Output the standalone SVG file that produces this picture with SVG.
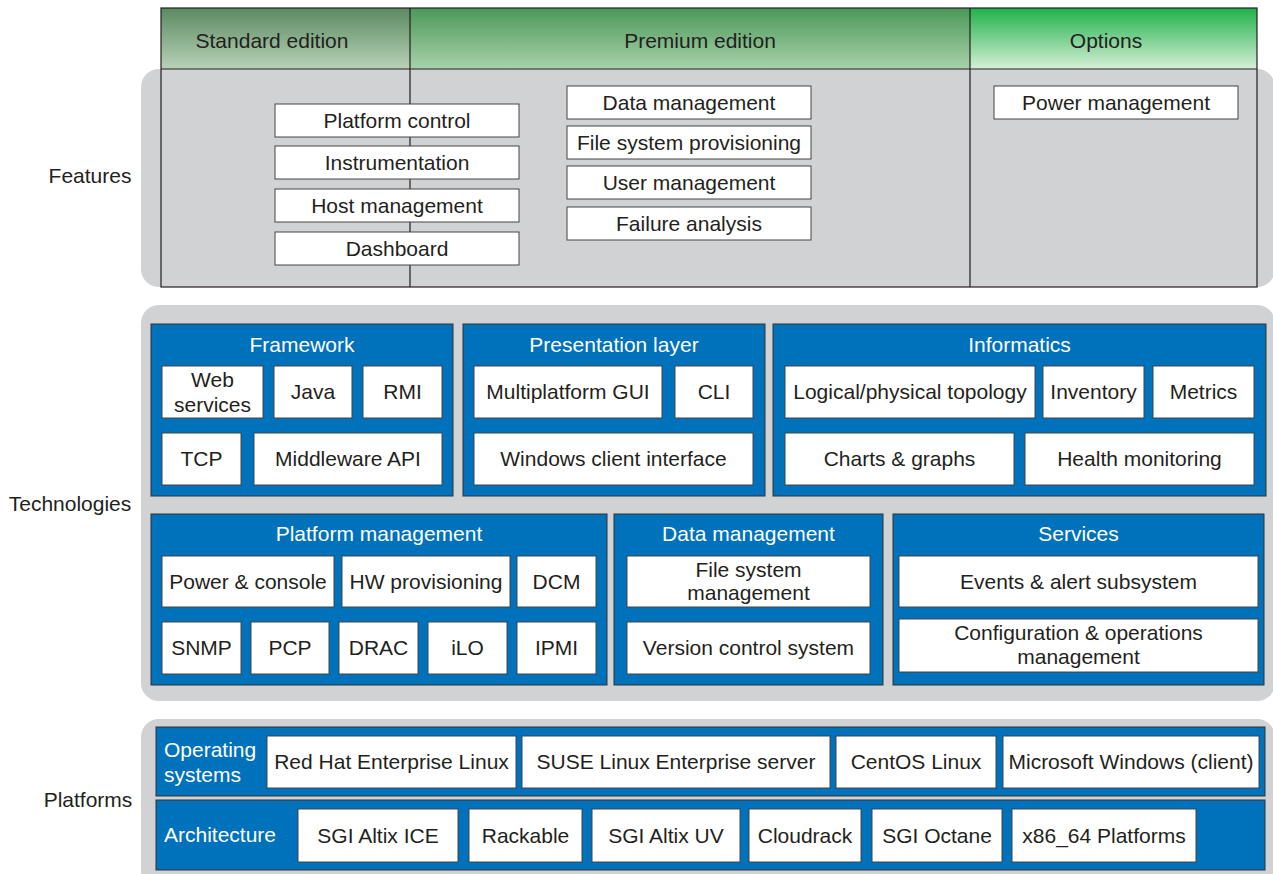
<svg xmlns="http://www.w3.org/2000/svg" width="1273" height="874" viewBox="0 0 1273 874">
<defs>
<linearGradient id="gStd" x1="0" y1="0" x2="0" y2="1"><stop offset="0" stop-color="#5a8a60"/><stop offset="1" stop-color="#b8d2b8"/></linearGradient>
<linearGradient id="gPrem" x1="0" y1="0" x2="0" y2="1"><stop offset="0" stop-color="#4a9858"/><stop offset="1" stop-color="#a9d2ab"/></linearGradient>
<linearGradient id="gOpt" x1="0" y1="0" x2="0" y2="1"><stop offset="0" stop-color="#1fb24b"/><stop offset="1" stop-color="#d6efd6"/></linearGradient>
<style>
text{font-family:"Liberation Sans",Arial,sans-serif;font-size:21px;fill:#231f20;text-anchor:middle}
.tier{fill:#d1d2d4}
.blue{fill:#0071bb;stroke:#333;stroke-width:1}
.box{fill:#fff;stroke:#444;stroke-width:1}
.line{stroke:#231f20;stroke-width:1.2;fill:none}
.wt{fill:#fff}
.lt{text-anchor:start}
</style>
</defs>
<rect width="1273" height="874" fill="#fff"/>

<!-- Features tier -->
<g id="features">
<rect class="tier" x="141" y="69" width="1134" height="218" rx="18"/>
<rect x="161" y="8" width="249" height="61" fill="url(#gStd)"/>
<rect x="410" y="8" width="560" height="61" fill="url(#gPrem)"/>
<rect x="970" y="8" width="287" height="61" fill="url(#gOpt)"/>
<rect class="line" x="161" y="8" width="1096" height="279"/>
<line class="line" x1="161" y1="69" x2="1257" y2="69"/>
<line class="line" x1="410" y1="8" x2="410" y2="287"/>
<line class="line" x1="970" y1="8" x2="970" y2="287"/>
<text x="272" y="48" fill="#333">Standard edition</text>
<text x="700" y="48" fill="#333">Premium edition</text>
<text x="1106" y="48" fill="#333">Options</text>
<text x="90" y="183">Features</text>
</g>
<g id="f-platform-control"><rect class="box" x="275" y="104" width="244" height="33"/><text x="397" y="128">Platform control</text></g>
<g id="f-instrumentation"><rect class="box" x="275" y="146" width="244" height="33"/><text x="397" y="170">Instrumentation</text></g>
<g id="f-host-management"><rect class="box" x="275" y="189" width="244" height="33"/><text x="397" y="213">Host management</text></g>
<g id="f-dashboard"><rect class="box" x="275" y="232" width="244" height="33"/><text x="397" y="256">Dashboard</text></g>
<g id="f-data-management"><rect class="box" x="567" y="86" width="244" height="33"/><text x="689" y="110">Data management</text></g>
<g id="f-fs-provisioning"><rect class="box" x="567" y="126" width="244" height="33"/><text x="689" y="150">File system provisioning</text></g>
<g id="f-user-management"><rect class="box" x="567" y="166" width="244" height="33"/><text x="689" y="190">User management</text></g>
<g id="f-failure-analysis"><rect class="box" x="567" y="207" width="244" height="33"/><text x="689" y="231">Failure analysis</text></g>
<g id="f-power-management"><rect class="box" x="994" y="86" width="244" height="33"/><text x="1116" y="110">Power management</text></g>

<!-- Technologies tier -->
<g id="technologies">
<rect class="tier" x="141" y="305" width="1134" height="396" rx="18"/>
<text x="70" y="511">Technologies</text>
</g>
<g id="framework">
<rect class="blue" x="151" y="324" width="302" height="172"/>
<text class="wt" x="302" y="352">Framework</text>
<rect class="box" x="162" y="366" width="101" height="52"/><text x="212.5" y="387">Web</text><text x="212.5" y="412">services</text>
<rect class="box" x="274" y="366" width="78" height="52"/><text x="313" y="399">Java</text>
<rect class="box" x="363" y="366" width="79" height="52"/><text x="402.5" y="399">RMI</text>
<rect class="box" x="162" y="433" width="79" height="52"/><text x="201.5" y="466">TCP</text>
<rect class="box" x="254" y="433" width="188" height="52"/><text x="348" y="466">Middleware API</text>
</g>
<g id="presentation-layer">
<rect class="blue" x="463" y="324" width="302" height="172"/>
<text class="wt" x="614" y="352">Presentation layer</text>
<rect class="box" x="474" y="366" width="188" height="52"/><text x="568" y="399">Multiplatform GUI</text>
<rect class="box" x="675" y="366" width="78" height="52"/><text x="714" y="399">CLI</text>
<rect class="box" x="474" y="433" width="279" height="52"/><text x="613.5" y="466">Windows client interface</text>
</g>
<g id="informatics">
<rect class="blue" x="773" y="324" width="493" height="172"/>
<text class="wt" x="1019.5" y="352">Informatics</text>
<rect class="box" x="785" y="366" width="250" height="52"/><text x="910" y="399">Logical/physical topology</text>
<rect class="box" x="1043" y="366" width="101" height="52"/><text x="1093.5" y="399">Inventory</text>
<rect class="box" x="1153" y="366" width="101" height="52"/><text x="1203.5" y="399">Metrics</text>
<rect class="box" x="785" y="433" width="229" height="52"/><text x="899.5" y="466">Charts &amp; graphs</text>
<rect class="box" x="1025" y="433" width="229" height="52"/><text x="1139.5" y="466">Health monitoring</text>
</g>
<g id="platform-management">
<rect class="blue" x="151" y="514" width="456" height="171"/>
<text class="wt" x="379" y="541">Platform management</text>
<rect class="box" x="162" y="556" width="172" height="51"/><text x="248" y="589">Power &amp; console</text>
<rect class="box" x="342" y="556" width="168" height="51"/><text x="426" y="589">HW provisioning</text>
<rect class="box" x="517" y="556" width="79" height="51"/><text x="556.5" y="589">DCM</text>
<rect class="box" x="162" y="622" width="79" height="52"/><text x="201.5" y="655">SNMP</text>
<rect class="box" x="251" y="622" width="78" height="52"/><text x="290" y="655">PCP</text>
<rect class="box" x="339" y="622" width="79" height="52"/><text x="378.5" y="655">DRAC</text>
<rect class="box" x="428" y="622" width="79" height="52"/><text x="467.5" y="655">iLO</text>
<rect class="box" x="517" y="622" width="79" height="52"/><text x="556.5" y="655">IPMI</text>
</g>
<g id="data-management">
<rect class="blue" x="614" y="514" width="269" height="171"/>
<text class="wt" x="748.5" y="541">Data management</text>
<rect class="box" x="627" y="556" width="243" height="51"/><text x="748.5" y="577">File system</text><text x="748.5" y="600">management</text>
<rect class="box" x="627" y="622" width="243" height="52"/><text x="748.5" y="655">Version control system</text>
</g>
<g id="services">
<rect class="blue" x="893" y="514" width="371" height="171"/>
<text class="wt" x="1078.5" y="541">Services</text>
<rect class="box" x="899" y="556" width="359" height="51"/><text x="1078.5" y="589">Events &amp; alert subsystem</text>
<rect class="box" x="899" y="619" width="359" height="53"/><text x="1078.5" y="640">Configuration &amp; operations</text><text x="1078.5" y="664">management</text>
</g>

<!-- Platforms tier -->
<g id="platforms">
<rect class="tier" x="141" y="719" width="1134" height="170" rx="18"/>
<text x="88" y="807">Platforms</text>
</g>
<g id="operating-systems">
<rect class="blue" x="156" y="727" width="1109" height="69"/>
<text class="wt lt" x="164" y="757">Operating</text><text class="wt lt" x="164" y="782">systems</text>
<rect class="box" x="267" y="736" width="249" height="52"/><text x="391.5" y="769">Red Hat Enterprise Linux</text>
<rect class="box" x="522" y="736" width="308" height="52"/><text x="676" y="769">SUSE Linux Enterprise server</text>
<rect class="box" x="836" y="736" width="160" height="52"/><text x="916" y="769">CentOS Linux</text>
<rect class="box" x="1003" y="736" width="256" height="52"/><text x="1131" y="769">Microsoft Windows (client)</text>
</g>
<g id="architecture">
<rect class="blue" x="156" y="800" width="1109" height="70"/>
<text class="wt lt" x="164" y="842">Architecture</text>
<rect class="box" x="298" y="809" width="160" height="53"/><text x="378" y="843">SGI Altix ICE</text>
<rect class="box" x="469" y="809" width="113" height="53"/><text x="525.5" y="843">Rackable</text>
<rect class="box" x="592" y="809" width="148" height="53"/><text x="666" y="843">SGI Altix UV</text>
<rect class="box" x="749" y="809" width="112" height="53"/><text x="805" y="843">Cloudrack</text>
<rect class="box" x="872" y="809" width="130" height="53"/><text x="937" y="843">SGI Octane</text>
<rect class="box" x="1012" y="809" width="184" height="53"/><text x="1104" y="843">x86_64 Platforms</text>
</g>
<g id="connectors"></g>
</svg>
